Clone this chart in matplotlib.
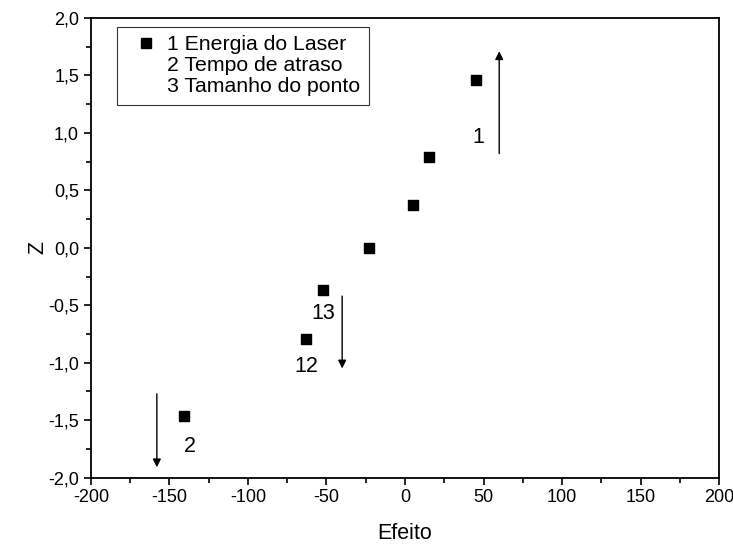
import numpy as np
import matplotlib
matplotlib.use("Agg")
import matplotlib.pyplot as plt
from matplotlib.lines import Line2D
from matplotlib.ticker import MultipleLocator, FuncFormatter

plt.rcParams['font.family'] = ['Liberation Sans', 'DejaVu Sans']
plt.rcParams['axes.unicode_minus'] = False

# effects vs normal scores
efeito = [-140.8, -63.0, -52.2, -23.0, 5.1, 15.3, 45.2]
z = [-1.46, -0.79, -0.37, 0.0, 0.37, 0.79, 1.46]

legend_labels = ["1 Energia do Laser", "2 Tempo de atraso", "3 Tamanho do ponto"]

# point labels (text, x, y)
point_labels = [("1", 47, 0.96), ("2", -137, -1.73), ("13", -52, -0.57), ("12", -63, -1.03)]

# arrows (x, y_start, y_end)
arrows = [(60, 0.82, 1.71), (-158, -1.27, -1.91), (-40, -0.42, -1.05)]

fig = plt.figure(figsize=(7.33, 5.44), dpi=100)
ax = fig.add_axes([0.124, 0.122, 0.857, 0.845])

ax.scatter(efeito, z, marker='s', s=42, color='black', zorder=3)

for txt, x, y in point_labels:
    ax.text(x, y, txt, fontsize=15.5, ha='center', va='center')

for x, y0, y1 in arrows:
    ax.annotate('', xy=(x, y1), xytext=(x, y0),
                arrowprops=dict(arrowstyle='-|>', color='black', lw=1.0,
                                mutation_scale=12, shrinkA=0, shrinkB=0))

ax.set_xlim(-200, 200)
ax.set_ylim(-2.0, 2.0)
ax.xaxis.set_major_locator(MultipleLocator(50))
ax.xaxis.set_minor_locator(MultipleLocator(25))
ax.yaxis.set_major_locator(MultipleLocator(0.5))
ax.yaxis.set_minor_locator(MultipleLocator(0.25))
ax.yaxis.set_major_formatter(FuncFormatter(lambda v, p: f"{v:.1f}".replace('.', ',')))
ax.tick_params(which='major', direction='out', length=5, width=1.2, labelsize=13)
ax.tick_params(which='minor', direction='out', length=3.5, width=1.2)
for s in ax.spines.values():
    s.set_linewidth(1.3)

ax.set_xlabel("Efeito", fontsize=15.5, labelpad=12)
ax.set_ylabel("Z", fontsize=15.5, labelpad=0)

handles = [Line2D([], [], marker='s', color='black', linestyle='none', markersize=7),
           Line2D([], [], linestyle='none'),
           Line2D([], [], linestyle='none')]
leg = ax.legend(handles, legend_labels, loc='upper left', bbox_to_anchor=(0.042, 0.981),
                fontsize=15.3, frameon=True, fancybox=False, edgecolor='black',
                borderpad=0.4, labelspacing=0.1, handletextpad=0.05, handlelength=1.9,
                borderaxespad=0)
leg.get_frame().set_linewidth(0.8)

fig.savefig("out.png", dpi=100)
